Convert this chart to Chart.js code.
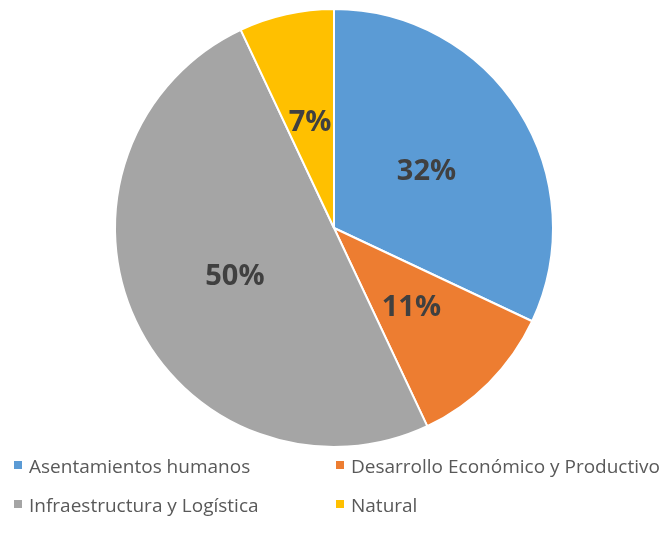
<!DOCTYPE html>
<html>
<head>
<meta charset="utf-8">
<script src="https://cdn.jsdelivr.net/npm/chart.js@4"></script>
<style>
  body { margin: 0; background: #fff; }
  #wrap { position: relative; width: 668px; height: 546px; }
  .leg { position: absolute; font-family: "Open Sans", sans-serif; font-size: 19px; color: #595959; white-space: nowrap; line-height: 22px; }
  .leg span.sq { display: inline-block; width: 8px; height: 8px; margin-right: 7px; vertical-align: 4px; }
</style>
</head>
<body>
<div id="wrap">
  <canvas id="myChart1" width="668" height="546"></canvas>
</div>
<script>
var categories = ["Asentamientos humanos", "Desarrollo Económico y Productivo", "Infraestructura y Logística", "Natural"];
var values = [32, 11, 50, 7];
var colors = ["#5B9BD5", "#ED7D31", "#A5A5A5", "#FFC000"];
// legend spots (2 columns, 2 rows)
var legendPos = [[14, 455], [336, 455], [14, 494], [336, 494]];

// percentage labels in the middle of each slice
var pctLabels = {
  id: "pctLabels",
  afterDatasetsDraw: function(chart) {
    var ctx = chart.ctx;
    var meta = chart.getDatasetMeta(0);
    var total = values.reduce(function(s, v) { return s + v; }, 0);
    ctx.save();
    ctx.font = "bold 29px 'Open Sans', sans-serif";
    ctx.fillStyle = "#404040";
    ctx.textAlign = "center";
    ctx.textBaseline = "middle";
    meta.data.forEach(function(arc, i) {
      var p = arc.tooltipPosition();
      ctx.fillText(Math.round(values[i] / total * 100) + "%", p.x, p.y + 2);
    });
    ctx.restore();
  }
};

var ctx = document.getElementById("myChart1");
var myChart = new Chart(ctx, {
  type: 'pie',
  data: {
    labels: categories,
    datasets: [{
      data: values,
      backgroundColor: colors,
      borderColor: "#ffffff",
      borderWidth: 2
    }]
  },
  options: {
    responsive: false,
    animation: false,
    layout: { padding: { top: 8, bottom: 98, left: 0, right: 0 } },
    plugins: {
      legend: { display: false },
      tooltip: { enabled: false }
    }
  },
  plugins: [pctLabels]
});

var wrap = document.getElementById("wrap");
categories.forEach(function(c, i) {
  var d = document.createElement("div");
  d.className = "leg";
  d.style.left = legendPos[i][0] + "px";
  d.style.top = legendPos[i][1] + "px";
  d.innerHTML = '<span class="sq" style="background:' + colors[i] + '"></span>' + c;
  wrap.appendChild(d);
});
</script>
</body>
</html>
